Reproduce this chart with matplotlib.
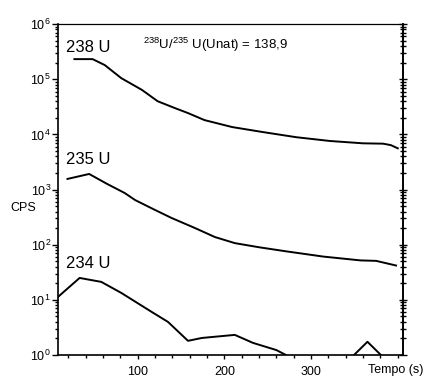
import numpy as np
import matplotlib
matplotlib.use('Agg')
import matplotlib.pyplot as plt
from matplotlib.ticker import MultipleLocator, LogLocator, NullFormatter

plt.rcParams['font.family'] = ['Liberation Sans', 'DejaVu Sans']
plt.rcParams['mathtext.default'] = 'regular'

# DATA
t_238 = [27, 48, 62, 81, 105, 123, 143, 158, 177, 209, 245, 283, 322, 360, 383, 392, 400]
cps_238 = [2.32e5, 2.32e5, 1.81e5, 1.05e5, 6.4e4, 4.0e4, 3.0e4, 2.44e4, 1.82e4,
           1.36e4, 1.1e4, 8.9e3, 7.6e3, 6.9e3, 6.8e3, 6.4e3, 5.6e3]

t_235 = [19, 44, 65, 85, 97, 120, 139, 166, 189, 212, 240, 271, 314, 357, 375, 398]
cps_235 = [1560, 1920, 1260, 867, 646, 427, 306, 201, 138, 107, 90, 76, 61, 52, 51, 42]

t_234 = [8, 33, 58, 81, 116, 135, 158, 174, 212, 233, 260, 271, 290, 330, 365, 400]
cps_234 = [11.3, 25, 21.2, 13.4, 6.07, 3.98, 1.81, 2.04, 2.32, 1.66, 1.23, 1.0,
           0.5, 0.5, 1.74, 0.5]

labels = ['238 U', '235 U', '234 U']
label_pos = [(17, 3.8e5), (17, 3.5e3), (17, 46)]
ratio_text = '$^{238}$U/$^{235}$ U(Unat) = 138,9'

# FIGURE
fig = plt.figure(figsize=(4.26, 3.83), dpi=100)
ax = fig.add_axes([0.136, 0.073, 0.81, 0.864])

for t, c in [(t_238, cps_238), (t_235, cps_235), (t_234, cps_234)]:
    ax.plot(t, c, color='black', lw=1.4, solid_joinstyle='round')

ax.set_yscale('log')
ax.set_xlim(8, 406)
ax.set_ylim(1, 1e6)

# TICKS
ax.set_xticks([100, 200, 300])
ax.xaxis.set_minor_locator(MultipleLocator(20))
ax.yaxis.set_major_locator(LogLocator(base=10, numticks=10))
ax.yaxis.set_minor_locator(LogLocator(base=10, subs=np.arange(2, 10), numticks=20))
ax.yaxis.set_minor_formatter(NullFormatter())
ax.tick_params(axis='y', which='major', direction='out', length=4, width=1, labelsize=9, pad=1)
ax.tick_params(axis='y', which='minor', direction='out', length=2, width=1)
ax.tick_params(axis='x', which='both', direction='out', length=2, width=1, labelsize=9, pad=5)
ax.tick_params(axis='x', which='major', length=3)

# right axis ticks both ways
sec = ax.secondary_yaxis('right')
sec.yaxis.set_major_locator(LogLocator(base=10, numticks=10))
sec.yaxis.set_minor_locator(LogLocator(base=10, subs=np.arange(2, 10), numticks=20))
sec.yaxis.set_major_formatter(NullFormatter())
sec.yaxis.set_minor_formatter(NullFormatter())
sec.tick_params(axis='y', which='major', direction='inout', length=6, width=1)
sec.tick_params(axis='y', which='minor', direction='inout', length=4, width=1)
sec.spines['right'].set_linewidth(1.2)

for s in ax.spines.values():
    s.set_linewidth(1.2)
ax.spines['top'].set_linewidth(0.9)

# TEXT
for lab, (x, y) in zip(labels, label_pos):
    ax.text(x, y, lab, fontsize=12, ha='left', va='center')
ax.text(106, 4.2e5, ratio_text, fontsize=9.5, ha='left', va='center')
fig.text(0.025, 0.457, 'CPS', fontsize=9, ha='left', va='center')
fig.text(0.995, 0.035, 'Tempo (s)', fontsize=9, ha='right', va='center')

fig.savefig('out.png', dpi=100)
